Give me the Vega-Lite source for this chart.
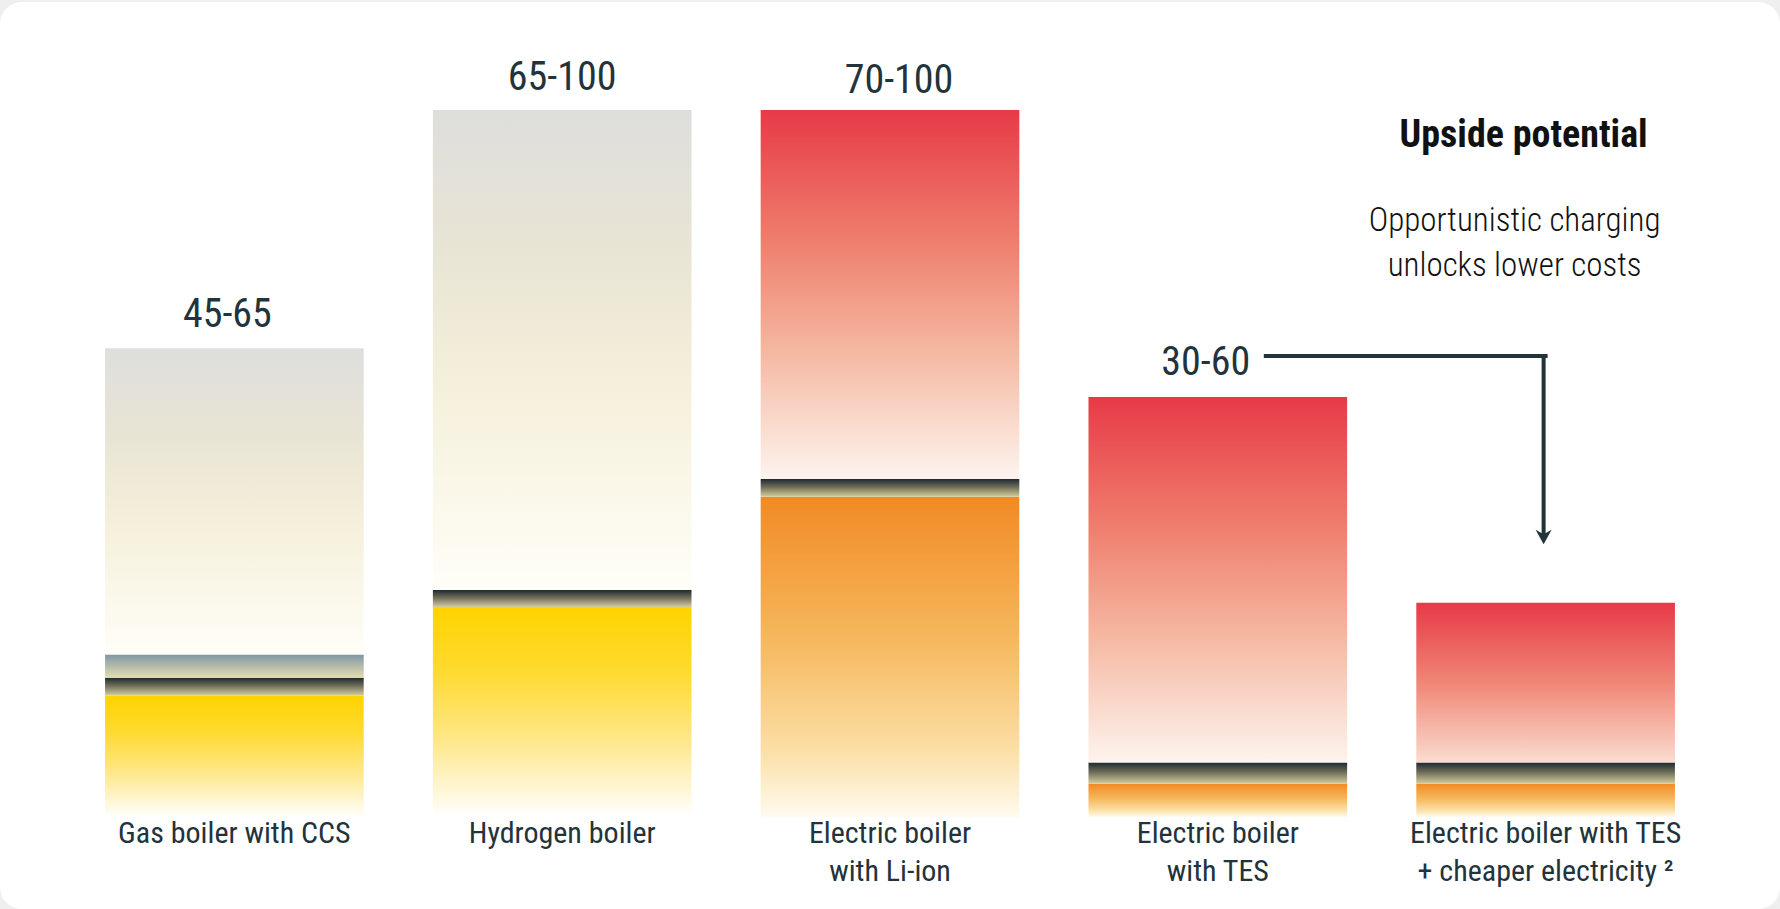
{
  "$schema": "https://vega.github.io/schema/vega-lite/v6.json",
  "width": 1780,
  "height": 909,
  "autosize": {"type": "fit", "contains": "padding"},
  "padding": {"top": 2, "left": 0, "right": 0, "bottom": 0},
  "background": "#EFEFEF",
  "config": {
    "view": {"fill": "white", "stroke": null, "cornerRadius": 22},
    "font": "Roboto Condensed, Liberation Sans Narrow, Roboto, sans-serif"
  },
  "datasets": {
    "segments": [
      {"bar": "Gas boiler with CCS", "seg": "yellow", "value": 17.2, "order": 1},
      {"bar": "Gas boiler with CCS", "seg": "dark", "value": 2.5, "order": 2},
      {"bar": "Gas boiler with CCS", "seg": "blue", "value": 3.3, "order": 3},
      {"bar": "Gas boiler with CCS", "seg": "grey", "value": 43.3, "order": 4},
      {"bar": "Hydrogen boiler", "seg": "yellow", "value": 29.7, "order": 1},
      {"bar": "Hydrogen boiler", "seg": "dark", "value": 2.4, "order": 2},
      {"bar": "Hydrogen boiler", "seg": "grey", "value": 67.9, "order": 4},
      {"bar": "Electric boiler with Li-ion", "seg": "orange", "value": 45.3, "order": 1},
      {"bar": "Electric boiler with Li-ion", "seg": "dark", "value": 2.5, "order": 2},
      {"bar": "Electric boiler with Li-ion", "seg": "red", "value": 52.2, "order": 4},
      {"bar": "Electric boiler with TES", "seg": "orange", "value": 4.7, "order": 1},
      {"bar": "Electric boiler with TES", "seg": "dark", "value": 3.0, "order": 2},
      {"bar": "Electric boiler with TES", "seg": "red", "value": 51.7, "order": 4},
      {"bar": "Electric boiler with TES + cheaper electricity", "seg": "orange", "value": 4.7, "order": 1},
      {"bar": "Electric boiler with TES + cheaper electricity", "seg": "dark", "value": 3.0, "order": 2},
      {"bar": "Electric boiler with TES + cheaper electricity", "seg": "red", "value": 22.6, "order": 4}
    ],
    "bars": [
      {"bar": "Gas boiler with CCS", "label": "Gas boiler with CCS", "range": "45-65", "total": 66.3},
      {"bar": "Hydrogen boiler", "label": "Hydrogen boiler", "range": "65-100", "total": 100},
      {"bar": "Electric boiler with Li-ion", "label": "Electric boiler\nwith Li-ion", "range": "70-100", "total": 100},
      {"bar": "Electric boiler with TES", "label": "Electric boiler\nwith TES", "range": "30-60", "total": 59.4},
      {"bar": "Electric boiler with TES + cheaper electricity", "label": "Electric boiler with TES\n+ cheaper electricity ²", "range": null, "total": 30.3}
    ],
    "note": [{"title": "Upside potential", "sub": "Opportunistic charging\nunlocks lower costs", "arrowTop": 65.2, "arrowEnd": 39.6, "titleY": 94.7, "subY": 82.9}]
  },
  "layer": [
    {
      "data": {"name": "segments"},
      "transform": [
        {"stack": "value", "groupby": ["bar"], "sort": [{"field": "order"}], "as": ["v0", "v1"]},
        {"filter": "datum.seg == 'yellow'"}
      ],
      "mark": {"type": "bar", "fill": {"gradient": "linear", "x1": 0, "y1": 0, "x2": 0, "y2": 1, "stops": [
        {"offset": 0, "color": "#FFD300"}, {"offset": 0.3, "color": "#FFDA2E"}, {"offset": 0.65, "color": "#FEE88E"}, {"offset": 1, "color": "#FFFFFF"}]}},
      "encoding": {
        "x": {"field": "bar", "type": "nominal", "scale": {"domain": ["Gas boiler with CCS", "Hydrogen boiler", "Electric boiler with Li-ion", "Electric boiler with TES", "Electric boiler with TES + cheaper electricity"], "paddingInner": 0.211, "paddingOuter": 0.3205}, "axis": null},
        "y": {"field": "v1", "type": "quantitative", "scale": {"domain": [-13.01, 115.28], "nice": false, "zero": false}, "axis": null},
        "y2": {"field": "v0"}
      }
    },
    {
      "data": {"name": "segments"},
      "transform": [
        {"stack": "value", "groupby": ["bar"], "sort": [{"field": "order"}], "as": ["v0", "v1"]},
        {"filter": "datum.seg == 'orange'"}
      ],
      "mark": {"type": "bar", "fill": {"gradient": "linear", "x1": 0, "y1": 0, "x2": 0, "y2": 1, "stops": [
        {"offset": 0, "color": "#F18A24"}, {"offset": 0.45, "color": "#F6B85E"}, {"offset": 0.8, "color": "#FBE0A8"}, {"offset": 1, "color": "#FFFBF0"}]}},
      "encoding": {
        "x": {"field": "bar", "type": "nominal", "scale": {"domain": ["Gas boiler with CCS", "Hydrogen boiler", "Electric boiler with Li-ion", "Electric boiler with TES", "Electric boiler with TES + cheaper electricity"], "paddingInner": 0.211, "paddingOuter": 0.3205}, "axis": null},
        "y": {"field": "v1", "type": "quantitative", "scale": {"domain": [-13.01, 115.28], "nice": false, "zero": false}, "axis": null},
        "y2": {"field": "v0"}
      }
    },
    {
      "data": {"name": "segments"},
      "transform": [
        {"stack": "value", "groupby": ["bar"], "sort": [{"field": "order"}], "as": ["v0", "v1"]},
        {"filter": "datum.seg == 'dark'"}
      ],
      "mark": {"type": "bar", "fill": {"gradient": "linear", "x1": 0, "y1": 0, "x2": 0, "y2": 1, "stops": [
        {"offset": 0, "color": "#1E2A32"}, {"offset": 0.45, "color": "#6F6D58"}, {"offset": 1, "color": "#D4CD9C"}]}},
      "encoding": {
        "x": {"field": "bar", "type": "nominal", "scale": {"domain": ["Gas boiler with CCS", "Hydrogen boiler", "Electric boiler with Li-ion", "Electric boiler with TES", "Electric boiler with TES + cheaper electricity"], "paddingInner": 0.211, "paddingOuter": 0.3205}, "axis": null},
        "y": {"field": "v1", "type": "quantitative", "scale": {"domain": [-13.01, 115.28], "nice": false, "zero": false}, "axis": null},
        "y2": {"field": "v0"}
      }
    },
    {
      "data": {"name": "segments"},
      "transform": [
        {"stack": "value", "groupby": ["bar"], "sort": [{"field": "order"}], "as": ["v0", "v1"]},
        {"filter": "datum.seg == 'blue'"}
      ],
      "mark": {"type": "bar", "fill": {"gradient": "linear", "x1": 0, "y1": 0, "x2": 0, "y2": 1, "stops": [
        {"offset": 0, "color": "#7D95A6"}, {"offset": 0.5, "color": "#B3BBA8"}, {"offset": 1, "color": "#E3DEB2"}]}},
      "encoding": {
        "x": {"field": "bar", "type": "nominal", "scale": {"domain": ["Gas boiler with CCS", "Hydrogen boiler", "Electric boiler with Li-ion", "Electric boiler with TES", "Electric boiler with TES + cheaper electricity"], "paddingInner": 0.211, "paddingOuter": 0.3205}, "axis": null},
        "y": {"field": "v1", "type": "quantitative", "scale": {"domain": [-13.01, 115.28], "nice": false, "zero": false}, "axis": null},
        "y2": {"field": "v0"}
      }
    },
    {
      "data": {"name": "segments"},
      "transform": [
        {"stack": "value", "groupby": ["bar"], "sort": [{"field": "order"}], "as": ["v0", "v1"]},
        {"filter": "datum.seg == 'grey'"}
      ],
      "mark": {"type": "bar", "fill": {"gradient": "linear", "x1": 0, "y1": 0, "x2": 0, "y2": 1, "stops": [
        {"offset": 0, "color": "#DEDEDC"}, {"offset": 0.3, "color": "#E9E5D4"}, {"offset": 0.6, "color": "#F6F1DC"}, {"offset": 1, "color": "#FFFEF8"}]}},
      "encoding": {
        "x": {"field": "bar", "type": "nominal", "scale": {"domain": ["Gas boiler with CCS", "Hydrogen boiler", "Electric boiler with Li-ion", "Electric boiler with TES", "Electric boiler with TES + cheaper electricity"], "paddingInner": 0.211, "paddingOuter": 0.3205}, "axis": null},
        "y": {"field": "v1", "type": "quantitative", "scale": {"domain": [-13.01, 115.28], "nice": false, "zero": false}, "axis": null},
        "y2": {"field": "v0"}
      }
    },
    {
      "data": {"name": "segments"},
      "transform": [
        {"stack": "value", "groupby": ["bar"], "sort": [{"field": "order"}], "as": ["v0", "v1"]},
        {"filter": "datum.seg == 'red' && datum.bar != 'Electric boiler with TES + cheaper electricity'"}
      ],
      "mark": {"type": "bar", "fill": {"gradient": "linear", "x1": 0, "y1": 0, "x2": 0, "y2": 1, "stops": [
        {"offset": 0, "color": "#E73A47"}, {"offset": 0.35, "color": "#EF7D6D"}, {"offset": 0.65, "color": "#F5B7A0"}, {"offset": 1, "color": "#FDF4EE"}]}},
      "encoding": {
        "x": {"field": "bar", "type": "nominal", "scale": {"domain": ["Gas boiler with CCS", "Hydrogen boiler", "Electric boiler with Li-ion", "Electric boiler with TES", "Electric boiler with TES + cheaper electricity"], "paddingInner": 0.211, "paddingOuter": 0.3205}, "axis": null},
        "y": {"field": "v1", "type": "quantitative", "scale": {"domain": [-13.01, 115.28], "nice": false, "zero": false}, "axis": null},
        "y2": {"field": "v0"}
      }
    },
    {
      "data": {"name": "segments"},
      "transform": [
        {"stack": "value", "groupby": ["bar"], "sort": [{"field": "order"}], "as": ["v0", "v1"]},
        {"filter": "datum.seg == 'red' && datum.bar == 'Electric boiler with TES + cheaper electricity'"}
      ],
      "mark": {"type": "bar", "fill": {"gradient": "linear", "x1": 0, "y1": 0, "x2": 0, "y2": 1, "stops": [
        {"offset": 0, "color": "#E73A47"}, {"offset": 0.5, "color": "#F08676"}, {"offset": 1, "color": "#FADCCF"}]}},
      "encoding": {
        "x": {"field": "bar", "type": "nominal", "scale": {"domain": ["Gas boiler with CCS", "Hydrogen boiler", "Electric boiler with Li-ion", "Electric boiler with TES", "Electric boiler with TES + cheaper electricity"], "paddingInner": 0.211, "paddingOuter": 0.3205}, "axis": null},
        "y": {"field": "v1", "type": "quantitative", "scale": {"domain": [-13.01, 115.28], "nice": false, "zero": false}, "axis": null},
        "y2": {"field": "v0"}
      }
    },
    {
      "data": {"name": "bars"},
      "mark": {"type": "text", "baseline": "top", "align": "center", "lineBreak": "\n", "lineHeight": 38, "fontSize": 30, "fontWeight": "normal", "color": "#22333B", "dy": 2},
      "encoding": {
        "x": {"field": "bar", "type": "nominal", "scale": {"domain": ["Gas boiler with CCS", "Hydrogen boiler", "Electric boiler with Li-ion", "Electric boiler with TES", "Electric boiler with TES + cheaper electricity"], "paddingInner": 0.211, "paddingOuter": 0.3205}, "axis": null},
        "y": {"datum": 0, "type": "quantitative", "scale": {"domain": [-13.01, 115.28], "nice": false, "zero": false}, "axis": null},
        "text": {"field": "label"}
      }
    },
    {
      "data": {"name": "bars"},
      "transform": [{"filter": "datum.bar == 'Hydrogen boiler'"}],
      "mark": {"type": "text", "baseline": "alphabetic", "align": "center", "fontSize": 40, "fontWeight": "normal", "color": "#22333B", "dy": -20},
      "encoding": {
        "x": {"field": "bar", "type": "nominal", "scale": {"domain": ["Gas boiler with CCS", "Hydrogen boiler", "Electric boiler with Li-ion", "Electric boiler with TES", "Electric boiler with TES + cheaper electricity"], "paddingInner": 0.211, "paddingOuter": 0.3205}, "axis": null},
        "y": {"field": "total", "type": "quantitative", "scale": {"domain": [-13.01, 115.28], "nice": false, "zero": false}, "axis": null},
        "text": {"field": "range"}
      }
    },
    {
      "data": {"name": "bars"},
      "transform": [{"filter": "datum.bar == 'Gas boiler with CCS'"}],
      "mark": {"type": "text", "baseline": "alphabetic", "align": "center", "fontSize": 40, "fontWeight": "normal", "color": "#22333B", "dy": -21, "dx": -7},
      "encoding": {
        "x": {"field": "bar", "type": "nominal", "scale": {"domain": ["Gas boiler with CCS", "Hydrogen boiler", "Electric boiler with Li-ion", "Electric boiler with TES", "Electric boiler with TES + cheaper electricity"], "paddingInner": 0.211, "paddingOuter": 0.3205}, "axis": null},
        "y": {"field": "total", "type": "quantitative", "scale": {"domain": [-13.01, 115.28], "nice": false, "zero": false}, "axis": null},
        "text": {"field": "range"}
      }
    },
    {
      "data": {"name": "bars"},
      "transform": [{"filter": "datum.bar == 'Electric boiler with Li-ion'"}],
      "mark": {"type": "text", "baseline": "alphabetic", "align": "center", "fontSize": 40, "fontWeight": "normal", "color": "#22333B", "dy": -17, "dx": 9},
      "encoding": {
        "x": {"field": "bar", "type": "nominal", "scale": {"domain": ["Gas boiler with CCS", "Hydrogen boiler", "Electric boiler with Li-ion", "Electric boiler with TES", "Electric boiler with TES + cheaper electricity"], "paddingInner": 0.211, "paddingOuter": 0.3205}, "axis": null},
        "y": {"field": "total", "type": "quantitative", "scale": {"domain": [-13.01, 115.28], "nice": false, "zero": false}, "axis": null},
        "text": {"field": "range"}
      }
    },
    {
      "data": {"name": "bars"},
      "transform": [{"filter": "datum.bar == 'Electric boiler with TES'"}],
      "mark": {"type": "text", "baseline": "alphabetic", "align": "center", "fontSize": 40, "fontWeight": "normal", "color": "#22333B", "dy": -22, "dx": -12},
      "encoding": {
        "x": {"field": "bar", "type": "nominal", "scale": {"domain": ["Gas boiler with CCS", "Hydrogen boiler", "Electric boiler with Li-ion", "Electric boiler with TES", "Electric boiler with TES + cheaper electricity"], "paddingInner": 0.211, "paddingOuter": 0.3205}, "axis": null},
        "y": {"field": "total", "type": "quantitative", "scale": {"domain": [-13.01, 115.28], "nice": false, "zero": false}, "axis": null},
        "text": {"field": "range"}
      }
    },
    {
      "data": {"name": "note"},
      "mark": {"type": "rule", "color": "#22333B", "strokeWidth": 4, "strokeCap": "square", "xOffset": 48},
      "encoding": {
        "x": {"datum": "Electric boiler with TES", "type": "nominal", "bandPosition": 0.5, "scale": {"domain": ["Gas boiler with CCS", "Hydrogen boiler", "Electric boiler with Li-ion", "Electric boiler with TES", "Electric boiler with TES + cheaper electricity"], "paddingInner": 0.211, "paddingOuter": 0.3205}, "axis": null},
        "x2": {"datum": "Electric boiler with TES + cheaper electricity", "bandPosition": 0.5},
        "y": {"field": "arrowTop", "type": "quantitative", "scale": {"domain": [-13.01, 115.28], "nice": false, "zero": false}, "axis": null}
      }
    },
    {
      "data": {"name": "note"},
      "mark": {"type": "rule", "color": "#22333B", "strokeWidth": 4, "strokeCap": "square", "xOffset": -2},
      "encoding": {
        "x": {"datum": "Electric boiler with TES + cheaper electricity", "type": "nominal", "bandPosition": 0.5, "scale": {"domain": ["Gas boiler with CCS", "Hydrogen boiler", "Electric boiler with Li-ion", "Electric boiler with TES", "Electric boiler with TES + cheaper electricity"], "paddingInner": 0.211, "paddingOuter": 0.3205}, "axis": null},
        "y": {"field": "arrowTop", "type": "quantitative", "scale": {"domain": [-13.01, 115.28], "nice": false, "zero": false}, "axis": null},
        "y2": {"field": "arrowEnd"}
      }
    },
    {
      "data": {"name": "note"},
      "mark": {"type": "point", "filled": true, "color": "#22333B", "opacity": 1, "size": 256, "shape": "M-1,-0.9L0,0.9L1,-0.9L0,-0.35Z", "xOffset": -2},
      "encoding": {
        "x": {"datum": "Electric boiler with TES + cheaper electricity", "type": "nominal", "bandPosition": 0.5, "scale": {"domain": ["Gas boiler with CCS", "Hydrogen boiler", "Electric boiler with Li-ion", "Electric boiler with TES", "Electric boiler with TES + cheaper electricity"], "paddingInner": 0.211, "paddingOuter": 0.3205}, "axis": null},
        "y": {"field": "arrowEnd", "type": "quantitative", "scale": {"domain": [-13.01, 115.28], "nice": false, "zero": false}, "axis": null}
      }
    },
    {
      "data": {"name": "note"},
      "mark": {"type": "text", "baseline": "alphabetic", "align": "center", "fontSize": 38, "fontWeight": "bold", "color": "#111111", "dx": -22},
      "encoding": {
        "x": {"datum": "Electric boiler with TES + cheaper electricity", "type": "nominal", "scale": {"domain": ["Gas boiler with CCS", "Hydrogen boiler", "Electric boiler with Li-ion", "Electric boiler with TES", "Electric boiler with TES + cheaper electricity"], "paddingInner": 0.211, "paddingOuter": 0.3205}, "axis": null},
        "y": {"field": "titleY", "type": "quantitative", "scale": {"domain": [-13.01, 115.28], "nice": false, "zero": false}, "axis": null},
        "text": {"field": "title"}
      }
    },
    {
      "data": {"name": "note"},
      "mark": {"type": "text", "baseline": "alphabetic", "align": "center", "fontSize": 33, "fontWeight": 300, "lineBreak": "\n", "lineHeight": 45, "color": "#111111", "dx": -31},
      "encoding": {
        "x": {"datum": "Electric boiler with TES + cheaper electricity", "type": "nominal", "scale": {"domain": ["Gas boiler with CCS", "Hydrogen boiler", "Electric boiler with Li-ion", "Electric boiler with TES", "Electric boiler with TES + cheaper electricity"], "paddingInner": 0.211, "paddingOuter": 0.3205}, "axis": null},
        "y": {"field": "subY", "type": "quantitative", "scale": {"domain": [-13.01, 115.28], "nice": false, "zero": false}, "axis": null},
        "text": {"field": "sub"}
      }
    }
  ]
}
